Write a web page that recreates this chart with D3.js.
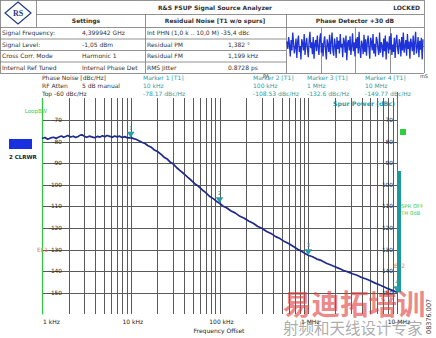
<!DOCTYPE html>
<html>
<head>
<meta charset="utf-8">
<script src="https://cdn.jsdelivr.net/npm/d3@7/dist/d3.min.js"></script>
<style>
  html, body { margin: 0; padding: 0; background: #fff; }
  svg { display: block; font-family: "DejaVu Sans", Verdana, sans-serif; }
</style>
</head>
<body>
<svg id="chart" width="436" height="338"></svg>
<script>
// Phase noise trace (offset frequency in Hz, level in dBc/Hz)
const offsetFreqs = [1000,1080,1160,1250,1350,1450,1550,1650,1750,1850,1950,2100,2250,2400,2550,2700,2850,3000,3200,3400,3650,3900,4200,4500,4800,5100,5400,5800,6200,6600,7000,7500,8000,8600,9200,10000,10800,11600,12500,13500,14500,15500,17000,18500,20000,22000,24000,26000,28000,30000,33000,36000,40000,44000,48000,53000,58000,64000,70000,77000,85000,92000,100000,110000,120000,135000,150000,170000,190000,215000,240000,270000,300000,340000,380000,430000,480000,540000,600000,680000,760000,850000,920000,1000000,1120000,1250000,1400000,1600000,1800000,2000000,2250000,2500000,2800000,3150000,3550000,4000000,4500000,5000000,5600000,6300000,7100000,8000000,9000000,10000000];
const noiseLevels = [-78.6,-78.1,-78.9,-78.3,-78.0,-78.5,-77.9,-77.4,-78.0,-77.6,-77.2,-77.9,-77.5,-78.1,-77.6,-77.0,-76.9,-77.6,-78.0,-77.5,-77.8,-78.2,-77.6,-77.9,-77.3,-77.8,-77.2,-77.6,-78.0,-77.4,-77.8,-77.5,-78.1,-77.7,-78.3,-78.17,-78.6,-79.0,-79.7,-80.4,-80.9,-81.8,-82.6,-83.9,-84.6,-85.9,-87.4,-88.2,-89.6,-90.3,-92.1,-93.4,-95.0,-96.6,-97.9,-99.6,-100.7,-102.4,-103.6,-105.3,-106.4,-107.6,-108.53,-109.9,-110.6,-112.1,-113.0,-114.6,-115.5,-116.9,-117.8,-119.3,-120.1,-121.6,-122.5,-124.0,-124.9,-126.3,-127.2,-128.6,-129.8,-130.9,-131.8,-132.6,-133.3,-134.4,-135.0,-136.3,-137.1,-137.9,-138.8,-139.7,-140.3,-141.2,-141.9,-142.9,-143.6,-144.4,-145.4,-146.3,-147.2,-148.2,-149.0,-149.77];

// Markers
const markerIds = ["1","2","3","4"];
const markerFreqs = [10000, 100000, 1000000, 10000000];
const markerFreqText = ["10 kHz","100 kHz","1 MHz","10 MHz"];
const markerLevels = [-78.17, -108.53, -132.6, -149.77];

// Axes
const levelTicks = [-70,-80,-90,-100,-110,-120,-130,-140,-150];
const decadeTicks = [1e3,1e4,1e5,1e6,1e7];
const decadeLabels = ["1 kHz","10 kHz","100 kHz","1 MHz","10 MHz"];

// Summary table
const settingNames = ["Signal Frequency:","Signal Level:","Cross Corr. Mode","Internal Ref Tuned"];
const settingValues = ["4,399942 GHz","-1,05 dBm","Harmonic 1","Internal Phase Det"];
const residualNames = ["Int PHN (1,0 k .. 10,0 M)  -35,4 dBc","Residual PM","Residual FM","RMS Jitter"];
const residualValues = ["","1,382 °","1,199 kHz","0.8728 ps"];

// Phase detector output (normalised)
const detectorTrace = [0.3,-0.2,0.6,0.1,-0.7,0.4,-0.3,0.9,0.2,-0.5,-0.1,0.5,-0.8,0.3,0.7,-0.4,0.0,-0.9,0.45,0.2,-0.3,0.8,-0.6,0.1,0.55,-0.2,-0.75,0.35,0.95,-0.15,0.25,-0.55,0.6,-0.85,0.15,0.4,-0.35,0.7,-0.05,-0.6,0.5,0.85,-0.45,0.2,-0.7,0.3,0.65,-0.25,-0.9,0.45,0.1,-0.4,0.75,-0.55,0.25,0.9,-0.3,-0.65,0.5,0.05,-0.8,0.6,-0.2,0.35,-0.5,0.8,-0.1,0.15,-0.75,0.55,0.3,-0.45,0.7,-0.95,0.2,0.4,-0.3,0.65,-0.6,0.0,0.85,-0.35,0.25,-0.7,0.5,-0.15,0.6,-0.5,0.95,-0.25,-0.8,0.35,0.1,-0.55,0.75,-0.4,0.45,-0.65,0.2,0.7,-0.1,-0.85,0.55,0.3,-0.3,0.8,-0.5,0.15,-0.7,0.6,0.4,-0.2,-0.6,0.9,-0.45,0.25,0.05,-0.75,0.5,-0.35,0.7,-0.9,0.3,0.15,-0.5,0.65,-0.25,0.85,-0.6,0.1,-0.4,0.55,-0.8,0.35,0.75,-0.15,-0.55,0.45,0.2,-0.7,0.6,-0.3,0.9,-0.45,0.0,0.4,-0.65,0.8,-0.2,0.3,-0.85,0.5,0.15,-0.35,0.7,-0.6,0.25,0.95,-0.5,-0.1,0.6,-0.75,0.35,-0.25,0.55,-0.9,0.45];

const svg = d3.select("#chart");
svg.append("rect").attr("width",436).attr("height",338).attr("fill","#fff");

const TEAL = "#2a9da6", GRID = "#5a5a5a", TXT = "#333";

// ---------- Summary table ----------
const tbl = svg.append("g").attr("font-size",6).attr("fill",TXT);
const lineC = "#777";
const rowY = [0,14,27,38.5,50,61.5,73];
function hline(x1,x2,y){ tbl.append("line").attr("x1",x1).attr("x2",x2).attr("y1",y+0.5).attr("y2",y+0.5).attr("stroke",lineC).attr("stroke-width",0.8); }
function vline(x,y1,y2){ tbl.append("line").attr("x1",x+0.5).attr("x2",x+0.5).attr("y1",y1).attr("y2",y2).attr("stroke",lineC).attr("stroke-width",0.8); }
hline(0,424,0); hline(36,424,14); hline(0,424,27);
[38.5,50,61.5].forEach(y=>hline(0,286,y));
hline(0,424,73);
vline(0,0,73); vline(36,0,27); vline(145,14,73); vline(286,14,73); vline(424,0,73);

// logo
const logo = svg.append("g").attr("transform","translate(18,13)");
logo.append("path").attr("d","M0,-11 L13,0 L0,11 L-13,0 Z").attr("fill","#fff").attr("stroke","#1f3c88").attr("stroke-width",1.2);
logo.append("text").attr("text-anchor","middle").attr("y",3).attr("font-size",8).attr("font-weight","bold").attr("fill","#1f3c88").attr("font-family","Liberation Serif, serif").text("RS");

tbl.append("text").attr("x",215).attr("y",10).attr("text-anchor","middle").attr("font-weight","bold").text("R&S FSUP Signal Source Analyzer");
tbl.append("text").attr("x",420).attr("y",10).attr("text-anchor","end").attr("font-weight","bold").text("LOCKED");
tbl.append("text").attr("x",86).attr("y",23).attr("text-anchor","middle").attr("font-weight","bold").text("Settings");
tbl.append("text").attr("x",215).attr("y",23).attr("text-anchor","middle").attr("font-weight","bold").text("Residual Noise [T1 w/o spurs]");
tbl.append("text").attr("x",355).attr("y",23).attr("text-anchor","middle").attr("font-weight","bold").text("Phase Detector +30 dB");

settingNames.forEach((s,i)=>{
  const y = rowY[i+2] + 8.3;
  tbl.append("text").attr("x",2).attr("y",y).text(s);
  tbl.append("text").attr("x",82).attr("y",y).text(settingValues[i]);
  tbl.append("text").attr("x",147).attr("y",y).text(residualNames[i]);
  tbl.append("text").attr("x",228).attr("y",y).text(residualValues[i]);
});

// phase detector strip
const pdX = d3.scaleLinear().domain([0, detectorTrace.length-1]).range([287,423]);
const pdY = d3.scaleLinear().domain([-1,1]).range([61,31]);
[321,355,390].forEach(x=>vline(x,27,73));
hline(286,424,46);
svg.append("path").datum(detectorTrace)
  .attr("d", d3.line().x((d,i)=>pdX(i)).y(d=>pdY(d)))
  .attr("fill","none").attr("stroke","#1d33d8").attr("stroke-width",1.3);

// ---------- Header text above diagram ----------
const hdr = svg.append("g").attr("font-size",6);
hdr.append("text").attr("x",42).attr("y",80).attr("fill",TXT).text("Phase Noise [dBc/Hz]");
hdr.append("text").attr("x",42).attr("y",88).attr("fill",TXT).text("RF Atten");
hdr.append("text").attr("x",82).attr("y",88).attr("fill",TXT).text("5 dB manual");
hdr.append("text").attr("x",42).attr("y",96).attr("fill",TXT).text("Top -60 dBc/Hz");
const mkX = [143,253,307,365];
markerIds.forEach((id,i)=>{
  hdr.append("text").attr("x",mkX[i]).attr("y",80).attr("fill",TEAL).text(`Marker ${id} [T1]`);
  hdr.append("text").attr("x",mkX[i]).attr("y",88).attr("fill",TEAL).text(markerFreqText[i]);
  hdr.append("text").attr("x",mkX[i]).attr("y",96).attr("fill",TEAL).text(`${markerLevels[i]} dBc/Hz`);
});
hdr.append("text").attr("x",263).attr("y",78).attr("fill","#444").attr("font-size",5).text("PA");
hdr.append("text").attr("x",420).attr("y",78).attr("fill","#444").attr("font-size",5).text("mS");
hdr.append("text").attr("x",395).attr("y",106).attr("text-anchor","end").attr("fill",TEAL).attr("font-weight","bold").attr("font-size",6.3).text("Spur Power (dBc)");

// ---------- Diagram ----------
const x = d3.scaleLog().domain([1e3,1e7]).range([42,397]);
const y = d3.scaleLinear().domain([-60,-160]).range([98.4,314.4]);

const grid = svg.append("g").attr("shape-rendering","crispEdges");
const minorFreqs = [];
for (let e=3;e<7;e++) for (let m=1;m<10;m++) minorFreqs.push(m*Math.pow(10,e));
minorFreqs.push(1e7);
grid.selectAll("line.v").data(minorFreqs).join("line")
  .attr("x1",d=>Math.round(x(d))+0.5).attr("x2",d=>Math.round(x(d))+0.5)
  .attr("y1",y(-60)).attr("y2",y(-160))
  .attr("stroke",GRID).attr("stroke-width",1);
grid.selectAll("line.h").data(levelTicks).join("line")
  .attr("x1",x(1e3)).attr("x2",x(1e7))
  .attr("y1",d=>Math.round(y(d))+0.5).attr("y2",d=>Math.round(y(d))+0.5)
  .attr("stroke",GRID).attr("stroke-width",1);

// loop bandwidth line and spur axis line
svg.append("line").attr("x1",42.5).attr("x2",42.5).attr("y1",y(-60)).attr("y2",y(-160)).attr("stroke","#2ec840").attr("stroke-width",1.2);
svg.append("text").attr("x",47).attr("y",113).attr("text-anchor","end").attr("font-size",5.5).attr("fill","#3ccc4a").text("LoopBW");
svg.append("line").attr("x1",397.5).attr("x2",397.5).attr("y1",92).attr("y2",172).attr("stroke","#d83a30").attr("stroke-width",1);

// level labels (left and spur scale right)
const lbl = svg.append("g").attr("font-size",5.8).attr("fill","#222");
levelTicks.forEach(v=>{
  lbl.append("text").attr("x",62).attr("y",y(v)+2).attr("text-anchor","end").text(v);
  lbl.append("text").attr("x",393).attr("y",y(v)+2).attr("text-anchor","end").text(v);
});

// limit line labels
svg.append("text").attr("x",48).attr("y",y(-130)+2).attr("text-anchor","end").attr("font-size",6).attr("fill","#e07a5a").text("EL1");
svg.append("text").attr("x",394).attr("y",y(-137.5)+2).attr("font-size",6).attr("fill","#e07a5a").text("EL2");

// spur power bar and threshold indicator
svg.append("rect").attr("x",397).attr("y",171).attr("width",4).attr("height",y(-149.77)-171).attr("fill","#1a9a9c");
svg.append("rect").attr("x",400).attr("y",129).attr("width",6).attr("height",6).attr("fill","#2fcf3f");
svg.append("text").attr("x",401).attr("y",208).attr("font-size",5.3).attr("fill","#3ccc4a").text("SPR OFF");
svg.append("text").attr("x",401).attr("y",214.5).attr("font-size",5.3).attr("fill","#3ccc4a").text("TH 0dB");

// trace
svg.append("path").datum(offsetFreqs.map((f,i)=>[f,noiseLevels[i]]))
  .attr("d", d3.line().x(d=>x(d[0])).y(d=>y(d[1])))
  .attr("fill","none").attr("stroke","#1e2a8c").attr("stroke-width",1.7).attr("stroke-linejoin","round");

// markers
markerIds.forEach((id,i)=>{
  const mx = x(markerFreqs[i]), my = y(markerLevels[i]);
  svg.append("path").attr("d",`M${mx},${my} L${mx-3.8},${my-6} L${mx+3.8},${my-6} Z`).attr("fill",TEAL);
  svg.append("text").attr("x",mx).attr("y",my-8).attr("text-anchor","middle").attr("font-size",5.5).attr("fill",TEAL).text(id);
});

// trace legend
svg.append("rect").attr("x",9).attr("y",139).attr("width",23).attr("height",10).attr("fill","#1830e0");
svg.append("text").attr("x",9).attr("y",159).attr("font-size",5.5).attr("font-weight","bold").attr("fill","#222").text("2 CLRWR");

// frequency axis labels
const xl = svg.append("g").attr("font-size",6).attr("fill","#222");
decadeTicks.forEach((f,i)=>{
  if (i===0) xl.append("text").attr("x",43).attr("y",324).text(decadeLabels[i]);
  else xl.append("text").attr("x",x(f)+2).attr("y",324).attr("text-anchor","middle").text(decadeLabels[i]);
});
xl.append("text").attr("x",219).attr("y",333).attr("text-anchor","middle").text("Frequency Offset");

// drawing number
svg.append("text").attr("transform","translate(431,334) rotate(-90)").attr("font-size",6.5).attr("fill","#333").text("08376.007");

// publisher mark
svg.append("text").attr("x",283).attr("y",315).attr("font-family","Noto Sans CJK SC").attr("font-weight","bold").attr("font-size",28.5).attr("fill","#e03a3a").attr("fill-opacity",0.6).text("易迪拓培训");
svg.append("text").attr("x",283).attr("y",334).attr("font-family","Noto Sans CJK SC").attr("font-size",15.5).attr("fill","#888").attr("fill-opacity",0.7).text("射频和天线设计专家");
</script>
</body>
</html>
